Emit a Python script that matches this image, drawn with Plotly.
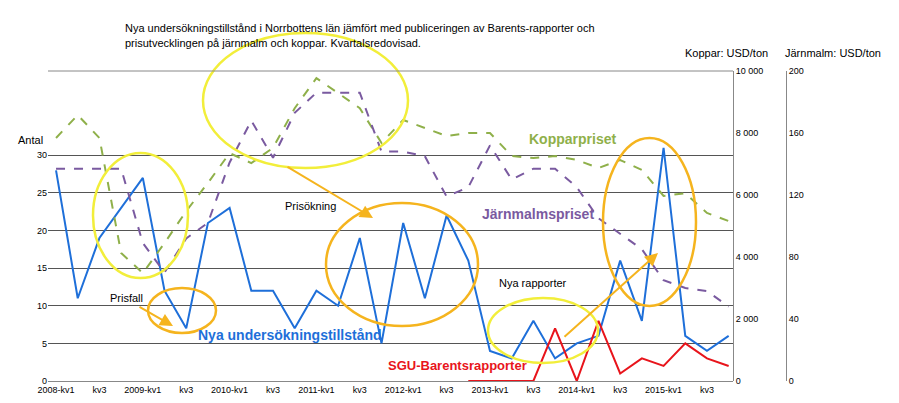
import plotly.graph_objects as go

quarters = list(range(32))
tick_pos = list(range(0, 32, 2))
tick_labels = ["2008-kv1","kv3","2009-kv1","kv3","2010-kv1","kv3","2011-kv1","kv3",
               "2012-kv1","kv3","2013-kv1","kv3","2014-kv1","kv3","2015-kv1","kv3"]
tillstand = [28,11,19,23,27,12,7,21,23,12,12,7,12,10,19,5,21,11,22,16,4,3,8,3,5,6,16,8,31,6,4,6]
sgu_x = list(range(19, 32))
sgu = [0,0,0,0,7,0,8,1,3,2,5,3,2]
koppar = [7840,8580,7840,4130,3480,4450,5480,6390,7350,7030,7520,8800,9770,9290,8800,7680,
          8420,8160,7900,8000,8000,7260,7190,7260,7130,6870,7130,6810,5970,6060,5420,5160]
jarn = [137,137,137,137,89,70,92,102,141,168,144,173,186,186,186,148,148,145,119,125,152,130,
        137,137,125,105,95,85,65,60,58,48]

FONT = "Liberation Sans, Arial, sans-serif"
L, T, W, H = 40, 63, 799, 310
def px(x): return (x - L) / W
def py(y): return (T + H - y) / H

fig = go.Figure()
fig.add_trace(go.Scatter(x=quarters, y=koppar, yaxis="y2", mode="lines",
                         line=dict(color="#8fb04a", width=2, dash="dash")))
fig.add_trace(go.Scatter(x=quarters, y=jarn, yaxis="y3", mode="lines",
                         line=dict(color="#7a5aa0", width=2, dash="dash")))
fig.add_trace(go.Scatter(x=quarters, y=tillstand, mode="lines",
                         line=dict(color="#1e6fd9", width=2)))
fig.add_trace(go.Scatter(x=sgu_x, y=sgu, mode="lines",
                         line=dict(color="#e8141b", width=2)))

shapes = []
def ell(x0, y0, x1, y1, c):
    shapes.append(dict(type="circle", xref="paper", yref="paper", x0=px(x0), x1=px(x1),
                       y0=py(y1), y1=py(y0), line=dict(color=c, width=2.5)))
Y, O = "#f2ee3a", "#f5b41e"
ell(85, 145, 180, 270, Y)
ell(140, 280, 208, 325, O)
ell(195, 25, 400, 160, Y)
ell(318, 195, 470, 318, O)
ell(480, 290, 590, 355, Y)
ell(595, 130, 688, 298, O)
shapes.append(dict(type="line", xref="paper", yref="paper", x0=0, x1=px(725), y0=1, y1=1,
                   line=dict(color="#888", width=1)))

ann = []
def txt(x, y, s, size=11, color="black", bold=False, anchor="left"):
    ann.append(dict(xref="paper", yref="paper", x=px(x), y=py(y), text=f"<b>{s}</b>" if bold else s,
                    showarrow=False, xanchor=anchor, yanchor="middle",
                    font=dict(size=size, color=color, family=FONT)))
def arrow(x0, y0, x1, y1):
    ann.append(dict(xref="paper", yref="paper", axref="pixel", ayref="pixel",
                    x=px(x1), y=py(y1), ax=x0 - x1, ay=y0 - y1, text="", showarrow=True,
                    arrowhead=2, arrowsize=1.3, arrowwidth=2, arrowcolor=O))
txt(115, 20, "Nya undersökningstillstånd i Norrbottens län jämfört med publiceringen av Barents-rapporter och", 11)
txt(115, 35, "prisutvecklingen på järnmalm och koppar. Kvartalsredovisad.", 11)
txt(675, 45, "Koppar: USD/ton", 11)
txt(775, 45, "Järnmalm: USD/ton", 11)
txt(8, 132, "Antal", 11)
txt(100, 290, "Prisfall", 11)
txt(275, 198, "Prisökning", 11)
txt(489, 275, "Nya rapporter", 11)
txt(188, 327, "Nya undersökningstillstånd", 14, "#1e6fd9", True)
txt(378, 357, "SGU-Barentsrapporter", 13, "#e8141b", True)
txt(519, 131, "Kopparpriset", 14, "#8fb04a", True)
txt(472, 206, "Järnmalmspriset", 14, "#7a5aa0", True)
arrow(278, 158, 365, 210)
arrow(555, 330, 650, 245)
arrow(130, 298, 165, 318)

fig.update_layout(
    width=899, height=403, margin=dict(l=L, r=899 - L - W, t=T, b=403 - T - H),
    paper_bgcolor="white", plot_bgcolor="white", showlegend=False,
    font=dict(family=FONT, size=9, color="black"),
    xaxis=dict(domain=[0, px(725)], range=[-0.37, 31.2], tickvals=tick_pos, ticktext=tick_labels,
               showgrid=False, zeroline=False, showline=True, linecolor="#888", ticks="", tickfont=dict(size=9)),
    yaxis=dict(range=[0, 41.2], tickvals=[0,5,10,15,20,25,30], showgrid=True, gridcolor="#555",
               gridwidth=1, zeroline=False, tickfont=dict(size=9)),
    yaxis2=dict(overlaying="y", anchor="free", position=px(725), side="right", range=[0, 10000],
                tickvals=[0,2000,4000,6000,8000,10000],
                ticktext=["0","2 000","4 000","6 000","8 000","10 000"],
                showgrid=False, zeroline=False, showline=True, linecolor="#888", tickfont=dict(size=9)),
    yaxis3=dict(overlaying="y", anchor="free", position=px(778), side="right", range=[0, 200],
                tickvals=[0,40,80,120,160,200], showgrid=False, zeroline=False,
                showline=True, linecolor="#888", tickfont=dict(size=9)),
    shapes=shapes, annotations=ann,
)
fig.write_html("out.html")
